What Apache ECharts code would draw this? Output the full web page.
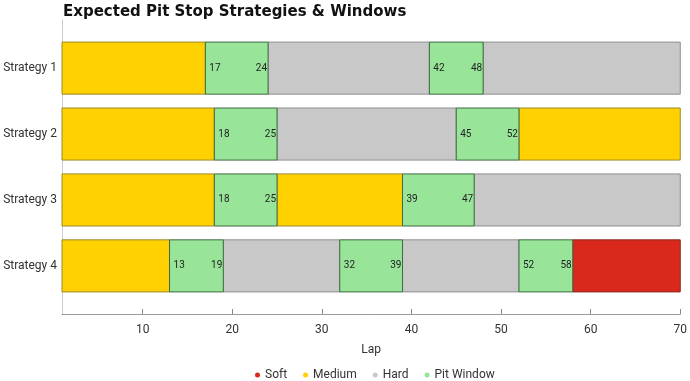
<!DOCTYPE html>
<html>
<head>
<meta charset="utf-8">
<script src="https://cdn.jsdelivr.net/npm/echarts@6/dist/echarts.min.js"></script>
<style>html,body{margin:0;padding:0;background:#fff}#c{width:690px;height:381px}</style>
</head>
<body>
<div id="c"></div>
<script>
const strategies = ['Strategy 1', 'Strategy 2', 'Strategy 3', 'Strategy 4'];
const lapTicks = [10, 20, 30, 40, 50, 60, 70];
// [strategyIndex, startLap, endLap]
const softStints = [[3, 58, 70]];
const mediumStints = [[0, 1, 17], [1, 1, 18], [1, 52, 70], [2, 1, 18], [2, 25, 39], [3, 1, 13]];
const hardStints = [[0, 24, 42], [0, 48, 70], [1, 25, 45], [2, 47, 70], [3, 19, 32], [3, 39, 52]];
const pitWindows = [[0, 17, 24], [0, 42, 48], [1, 18, 25], [1, 45, 52], [2, 18, 25], [2, 39, 47], [3, 13, 19], [3, 32, 39], [3, 52, 58]];

const colors = { Soft: '#DA291C', Medium: '#FFD100', Hard: '#C8C8C8', 'Pit Window': '#98E59A' };
const borders = { Soft: '#8a2a22', Medium: '#9c8a2a', Hard: '#8f8f8f', 'Pit Window': '#3f6a40' };
const FONT = 'Roboto';

function makeRender(name, withLabels) {
  return function (params, api) {
    const y = api.value(0), s = api.value(1), e = api.value(2);
    const p0 = api.coord([s, y]);
    const p1 = api.coord([e, y]);
    const h = Math.abs(api.size([0, 0.79])[1]);
    const children = [{
      type: 'rect',
      shape: { x: p0[0], y: p0[1] - h / 2, width: p1[0] - p0[0], height: h },
      style: { fill: colors[name], stroke: borders[name], lineWidth: 1 }
    }];
    if (withLabels) {
      children.push({
        type: 'text',
        style: { text: String(s), x: p0[0] + 4, y: p0[1], verticalAlign: 'middle', align: 'left', fontSize: 10, fontFamily: FONT, fill: '#222' }
      });
      children.push({
        type: 'text',
        style: { text: String(e), x: p1[0] - 1, y: p0[1], verticalAlign: 'middle', align: 'right', fontSize: 10, fontFamily: FONT, fill: '#222' }
      });
    }
    return { type: 'group', children: children };
  };
}

function series(name, data, labels) {
  return {
    name: name,
    type: 'custom',
    renderItem: makeRender(name, labels),
    itemStyle: { color: colors[name] },
    encode: { x: [1, 2], y: 0 },
    data: data,
    silent: true
  };
}

const chart = echarts.init(document.getElementById('c'));
chart.setOption({
  animation: false,
  title: {
    text: 'Expected Pit Stop Strategies & Windows',
    left: 58, top: 0,
    textStyle: { fontFamily: 'DejaVu Sans', fontWeight: 'bold', fontSize: 15, color: '#111' }
  },
  legend: {
    top: 364, left: 250,
    icon: 'circle', itemWidth: 5, itemHeight: 5, itemGap: 16,
    textStyle: { fontFamily: FONT, fontSize: 12, color: '#333' },
    data: ['Soft', 'Medium', 'Hard', 'Pit Window']
  },
  grid: { left: 62, right: 8, top: 20, bottom: 67, containLabel: false },
  xAxis: {
    type: 'value', min: 1, max: 70,
    name: 'Lap', nameLocation: 'middle', nameGap: 30,
    nameTextStyle: { fontFamily: FONT, fontSize: 12, color: '#333' },
    axisLine: { show: true, onZero: false, lineStyle: { color: '#999' } },
    axisTick: { show: true, inside: true, length: 5, customValues: lapTicks, lineStyle: { color: '#888', width: 1 } },
    axisLabel: { customValues: lapTicks, fontFamily: FONT, fontSize: 12, color: '#333', margin: 10 },
    splitLine: { show: false }
  },
  yAxis: {
    type: 'value', min: -0.73, max: 3.73, inverse: true,
    axisLine: { show: true, onZero: false, lineStyle: { color: '#ccc' } },
    axisTick: { show: false },
    axisLabel: {
      customValues: [0, 1, 2, 3],
      formatter: v => strategies[Math.round(v)],
      fontFamily: FONT, fontSize: 12, color: '#333', margin: 5
    },
    splitLine: { show: false }
  },
  series: [
    series('Soft', softStints, false),
    series('Medium', mediumStints, false),
    series('Hard', hardStints, false),
    series('Pit Window', pitWindows, true)
  ]
});
</script>
</body>
</html>
